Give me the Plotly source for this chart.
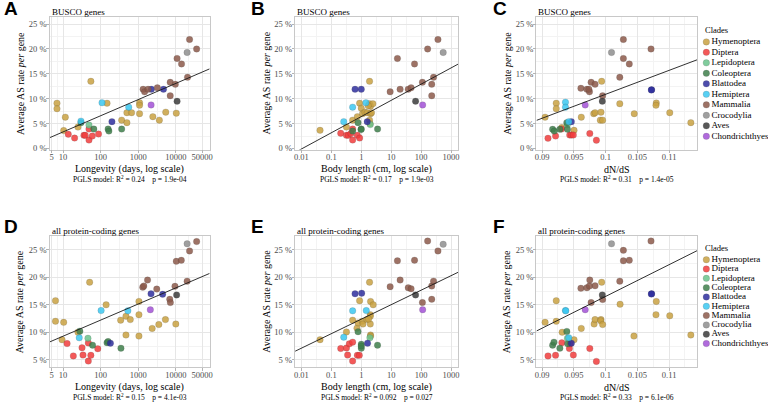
import math
import plotly.graph_objects as go

# ---------------- data ----------------
CLADES = ["Hymenoptera", "Diptera", "Lepidoptera", "Coleoptera", "Blattodea",
          "Hemiptera", "Mammalia", "Crocodylia", "Aves", "Chondrichthyes"]
COLORS = ["#C9A242", "#F23D3D", "#6BC48C", "#3F7F4C", "#2E2E9E",
          "#3CC8F2", "#8C5A4B", "#8F8F8F", "#3B3B3B", "#A352D6"]
# number of species per clade (same order in every panel's lists)
CLADE_COUNTS = [18, 8, 1, 5, 3, 3, 12, 1, 1, 1]

# Panel A: longevity (days) vs AS rate (%), BUSCO genes
A_x = [6.9, 6.9, 11.5, 10.4, 25, 55, 148, 363, 500, 500, 665, 1085, 1085, 1085, 2450, 3650, 5400, 10300,
       13.8, 20.3, 36, 39, 49, 49, 60, 88,
       49,
       30, 66, 158, 166, 363,
       200, 2240, 4700,
       30, 109, 560,
       1350, 1480, 1830, 3230, 7100, 7100, 9700, 10800, 14200, 20500, 23200, 35800,
       20000, 10800, 2200]
A_y = [9.1, 8.0, 6.3, 3.6, 4.3, 13.5, 9.1, 5.7, 5.2, 7.2, 7.2, 9.2, 8.7, 7.0, 6.4, 5.7, 7.3, 7.1,
       2.85, 2.1, 2.65, 2.65, 3.9, 1.7, 2.5, 2.9,
       4.7,
       5.2, 3.9, 3.9, 3.5, 3.9,
       5.4, 11.9, 11.9,
       5.5, 9.2, 8.3,
       11.9, 11.4, 11.9, 12.2, 13.3, 10.6, 12.9, 18.1, 17.0, 14.3, 21.9, 20.0,
       19.3, 9.5, 8.75]

# Panel B: body length (cm) vs AS rate (%), BUSCO genes
B_x = [0.042, 0.32, 0.515, 0.74, 0.88, 1.0, 1.1, 1.32, 1.58, 1.89, 1.89, 2.04, 2.44, 2.04, 1.89, 1.71, 2.2, 1.95,
       0.206, 0.32, 0.37, 0.515, 0.515, 0.74, 0.88, 0.45,
       2.0,
       0.78, 0.515, 1.0, 0.98, 3.5,
       0.62, 1.0, 1.58,
       0.26, 0.515, 1.43,
       9.2, 19.8, 16.1, 37, 46, 60, 110, 225, 225, 259, 164, 363,
       543, 65, 112]
B_y = [3.65, 4.3, 5.7, 6.4, 9.1, 8.1, 7.0, 7.3, 7.2, 13.5, 9.0, 8.5, 9.0, 7.0, 5.7, 8.6, 7.2, 5.0,
       3.05, 2.65, 2.65, 3.9, 1.7, 2.65, 2.1, 3.0,
       4.8,
       5.2, 3.5, 3.9, 3.8, 3.9,
       11.9, 11.9, 5.4,
       5.4, 8.3, 9.2,
       11.4, 11.9, 18.1, 11.9, 12.2, 17.0, 13.3, 12.9, 10.6, 14.3, 20.0, 21.9,
       19.3, 9.5, 8.75]

# Panel C: dN/dS vs AS rate (%), BUSCO genes
C_x = [0.09047, 0.09223, 0.09223, 0.0931, 0.09503, 0.09617, 0.09813, 0.09834, 0.09938, 0.09927, 0.09917,
       0.09953, 0.10223, 0.10451, 0.10798, 0.10793, 0.1101, 0.11342,
       0.09093, 0.09212, 0.09306, 0.09435, 0.09461, 0.09492, 0.09751, 0.09855,
       0.09399,
       0.09166, 0.09192, 0.0928, 0.09389, 0.09399,
       0.09461, 0.10725, 0.1072,
       0.09368, 0.09368, 0.0942,
       0.09611, 0.09705, 0.09746, 0.09772, 0.09834, 0.09953, 0.10223, 0.1028, 0.1028, 0.10373, 0.10715, 0.09736,
       0.10093, 0.09948, 0.09679]
C_y = [6.3, 9.1, 8.0, 4.2, 3.65, 6.3, 7.0, 7.2, 13.5, 7.3, 5.7, 5.7, 9.0, 7.0, 9.15, 8.7, 7.2, 5.2,
       2.05, 2.5, 3.9, 2.7, 2.7, 2.7, 3.0, 1.65,
       4.8,
       3.85, 3.5, 3.85, 5.2, 3.85,
       5.4, 11.8, 11.75,
       9.3, 8.3, 5.4,
       12.1, 11.9, 11.4, 13.3, 12.9, 10.6, 14.3, 21.9, 18.1, 17.0, 20.0, 11.9,
       19.3, 9.5, 8.75]

# Panel D: longevity (days) vs AS rate (%), all protein-coding genes
D_x = [6.3, 6.3, 10.4, 9.4, 25, 51, 140, 341, 472, 472, 615, 1045, 1045, 1045, 2350, 3530, 5300, 10000,
       12.8, 18.8, 32, 34, 47, 47, 55, 84,
       46,
       28, 61, 148, 158, 347,
       182, 2190, 4460,
       27, 103, 530,
       1320, 1410, 1770, 3110, 6900, 7160, 9500, 10300, 14000, 20000, 23200, 35800,
       20000, 10500, 2100]
D_y = [15.75, 12.0, 11.8, 8.65, 10.0, 19.1, 15.0, 12.2, 9.5, 12.9, 12.3, 15.6, 13.2, 9.3, 10.7, 11.4, 12.3, 11.5,
       7.95, 5.7, 7.2, 5.85, 8.05, 4.75, 5.8, 7.0,
       8.9,
       10.2, 7.65, 8.1, 8.3, 7.1,
       8.0, 17.0, 16.9,
       9.0, 13.95, 13.9,
       18.2, 18.4, 19.5, 17.85, 16.0, 15.4, 18.35, 22.9, 23.1, 19.3, 24.8, 26.5,
       26.1, 16.8, 14.1]

# Panel E: body length (cm) vs AS rate (%), all protein-coding genes
E_x = [0.042, 0.32, 0.515, 0.72, 0.88, 0.78, 1.08, 1.14, 1.54, 1.89, 2.04, 2.5, 2.0, 2.0, 2.0, 2.04, 2.04, 1.75,
       0.206, 0.32, 0.4, 0.515, 0.35, 0.74, 0.86, 0.515,
       1.94,
       0.78, 1.0, 1.0, 3.49, 1.0,
       0.62, 1.03, 1.62,
       0.515, 0.26, 1.47,
       9.2, 16.1, 19.8, 37, 46, 60, 110, 164, 225, 225, 259, 363,
       543, 65, 112]
E_y = [8.65, 10.05, 12.2, 10.75, 15.75, 11.7, 12.0, 11.5, 12.3, 19.1, 15.6, 15.0, 13.2, 12.9, 11.5, 9.5, 9.3, 12.4,
       7.05, 7.15, 7.9, 8.2, 5.85, 5.8, 5.8, 4.75,
       9.0,
       10.1, 7.8, 7.1, 7.65, 7.5,
       17.0, 17.1, 8.0,
       13.9, 9.1, 13.95,
       18.3, 23.0, 19.5, 18.1, 17.9, 23.1, 15.4, 26.6, 18.4, 16.0, 19.3, 24.8,
       26.0, 16.8, 14.1]

# Panel F: dN/dS vs AS rate (%), all protein-coding genes
F_x = [0.09047, 0.09223, 0.09223, 0.09316, 0.09503, 0.09617, 0.09819, 0.09834, 0.09938, 0.09927, 0.09922,
       0.09953, 0.10228, 0.10446, 0.10798, 0.10793, 0.1101, 0.11342,
       0.09093, 0.09212, 0.09311, 0.0943, 0.0944, 0.09492, 0.09751, 0.09855,
       0.09399,
       0.09166, 0.09187, 0.0928, 0.09389, 0.09404,
       0.09461, 0.10725, 0.1072,
       0.09368, 0.0942, 0.09373,
       0.09611, 0.09705, 0.09746, 0.09751, 0.09834, 0.09772, 0.09953, 0.10223, 0.1028, 0.1028, 0.10373, 0.10715,
       0.10093, 0.09948, 0.09679]
F_y = [11.8, 15.75, 12.0, 10.0, 8.65, 10.7, 11.5, 12.3, 19.1, 12.3, 12.1, 11.4, 15.1, 9.3, 15.6, 13.2, 13.0, 9.5,
       5.7, 5.8, 8.1, 7.05, 7.9, 5.85, 7.05, 4.7,
       8.9,
       7.65, 8.2, 7.1, 10.15, 7.9,
       8.0, 17.0, 16.95,
       13.95, 9.0, 13.9,
       18.0, 18.1, 18.4, 19.5, 18.45, 15.4, 15.95, 19.3, 24.9, 23.0, 23.1, 26.6,
       26.1, 16.8, 14.1]

# PGLS fits: (intercept, slope) ; log panels use log10(x)
FITS = [(0.08, 3.25), (6.42, 3.26), (-37.26, 481.5),
        (6.35, 2.93), (12.38, 2.64), (-41.28, 578.0)]
R2_TEXT = ["0.24", "0.17", "0.31", "0.15", "0.092", "0.33"]
P_TEXT = ["1.9e-04", "1.9e-03", "1.4e-05", "4.1e-03", "0.027", "6.1e-06"]

LONG_TICKS = [5, 10, 100, 1000, 10000, 50000]
BODY_TICKS = [0.01, 0.1, 1, 10, 100, 1000]
DNDS_TICKS = [0.09, 0.095, 0.1, 0.105, 0.11]
DNDS_TICKTEXT = ["0.09", "0.095", "0.1", "0.105", "0.11"]
Y_TICKS_TOP = [0, 5, 10, 15, 20, 25]
Y_TICKS_BOT = [5, 10, 15, 20, 25]

LETTERS = ["A", "B", "C", "D", "E", "F"]
SUBTITLES = ["BUSCO genes"] * 3 + ["all protein-coding genes"] * 3
XTITLES = ["Longevity (days, log scale)", "Body length (cm, log scale)", "dN/dS"] * 2

# ---------------- layout helpers ----------------
W, H = 768, 404
SERIF = "Liberation Serif, Times New Roman, serif"
SANS = "Liberation Sans, Arial, sans-serif"
COLS_PX = [(48, 209), (295, 459), (538, 700)]
ROWS_PX = [(17, 151), (238, 371)]
XRANGES = [[0.645, 4.90], [-2.21, 3.23], [0.08912, 0.11446]]
YRANGES = [[-0.2, 26.46], [3.62, 27.58]]

def px(x):
    return x / W

def py(y):
    return 1 - y / H

panels = [(A_x, A_y), (B_x, B_y), (C_x, C_y), (D_x, D_y), (E_x, E_y), (F_x, F_y)]

fig = go.Figure()
annotations = []

def ann(text, x, y, size, xanchor="center", yanchor="middle", angle=0,
        family=SERIF, color="black"):
    annotations.append(dict(text=text, x=px(x), y=py(y), xref="paper", yref="paper",
                            xanchor=xanchor, yanchor=yanchor, showarrow=False,
                            textangle=angle, font=dict(family=family, size=size, color=color)))

GRID = "#E6E6E6"
MINOR = "#F3F3F3"
TICKFONT = dict(family=SERIF, size=8.5, color="#4D4D4D")

for i, (xs, ys) in enumerate(panels):
    col, row = i % 3, i // 3
    n = i + 1
    xa = "x" if n == 1 else f"x{n}"
    ya = "y" if n == 1 else f"y{n}"
    # points by clade
    start = 0
    for c, cnt in enumerate(CLADE_COUNTS):
        fig.add_trace(go.Scatter(
            x=xs[start:start + cnt], y=ys[start:start + cnt], mode="markers",
            xaxis=xa, yaxis=ya, showlegend=False, hoverinfo="skip",
            marker=dict(size=6.5, color=COLORS[c], opacity=0.85,
                        line=dict(width=0.5, color="rgba(50,50,50,0.35)"))))
        start += cnt
    # regression line
    a, b = FITS[i]
    r0, r1 = XRANGES[col]
    if col < 2:
        lx = [10 ** r0, 10 ** r1]
        ly = [a + b * math.log10(v) for v in lx]
    else:
        lx = [r0, r1]
        ly = [a + b * v for v in lx]
    fig.add_trace(go.Scatter(x=lx, y=ly, mode="lines", xaxis=xa, yaxis=ya,
                             showlegend=False, hoverinfo="skip",
                             line=dict(color="#1A1A1A", width=0.9)))

    # axes
    cx0, cx1 = COLS_PX[col]
    ry0, ry1 = ROWS_PX[row]
    xax = dict(domain=[px(cx0), px(cx1)], anchor=ya, showline=True, mirror=True,
               linecolor="#C8C8C8", linewidth=0.8, showgrid=True, gridcolor=GRID,
               gridwidth=0.7, zeroline=False, ticks="outside", ticklen=2.5,
               tickcolor="#B3B3B3", tickwidth=0.6, tickfont=TICKFONT,
               ticklabelstandoff=-3)
    if col == 0:
        tv = LONG_TICKS
        mv = [math.sqrt(tv[k] * tv[k + 1]) for k in range(len(tv) - 1)]
        xax.update(type="log", range=XRANGES[col], tickmode="array", tickvals=tv,
                   ticktext=[str(v) for v in tv],
                   minor=dict(tickmode="array", tickvals=mv, showgrid=True,
                              gridcolor=MINOR, gridwidth=0.5, ticks=""))
    elif col == 1:
        tv = BODY_TICKS
        mv = [math.sqrt(tv[k] * tv[k + 1]) for k in range(len(tv) - 1)]
        xax.update(type="log", range=XRANGES[col], tickmode="array", tickvals=tv,
                   ticktext=["0.01", "0.1", "1", "10", "100", "1000"],
                   minor=dict(tickmode="array", tickvals=mv, showgrid=True,
                              gridcolor=MINOR, gridwidth=0.5, ticks=""))
    else:
        tv = DNDS_TICKS
        mv = [(tv[k] + tv[k + 1]) / 2 for k in range(len(tv) - 1)] + [tv[-1] + 0.0025]
        xax.update(type="linear", range=XRANGES[col], tickmode="array", tickvals=tv,
                   ticktext=DNDS_TICKTEXT,
                   minor=dict(tickmode="array", tickvals=mv, showgrid=True,
                              gridcolor=MINOR, gridwidth=0.5, ticks=""))
    yt = Y_TICKS_TOP if row == 0 else Y_TICKS_BOT
    ymv = [v + 2.5 for v in yt[:-1]]
    yax = dict(domain=[py(ry1), py(ry0)], anchor=xa, range=YRANGES[row], showline=True,
               mirror=True, linecolor="#C8C8C8", linewidth=0.8, showgrid=True,
               gridcolor=GRID, gridwidth=0.7, zeroline=False, ticks="outside",
               ticklen=2.5, tickcolor="#B3B3B3", tickwidth=0.6, tickfont=TICKFONT,
               ticklabelstandoff=-2,
               tickmode="array", tickvals=yt, ticktext=[f"{v} %" for v in yt],
               minor=dict(tickmode="array", tickvals=ymv, showgrid=True,
                          gridcolor=MINOR, gridwidth=0.5, ticks=""))
    fig.update_layout({("xaxis" if n == 1 else f"xaxis{n}"): xax,
                       ("yaxis" if n == 1 else f"yaxis{n}"): yax})

    # texts
    letter_x = [0, 249, 492][col]
    letter_y = [-4, 216][row]
    ann(f"<b>{LETTERS[i]}</b>", letter_x, letter_y, 19, xanchor="left", yanchor="top",
        family=SANS)
    ann(SUBTITLES[i], cx0, ry0 - 4.5, 9, xanchor="left", yanchor="middle")
    ytitle_x = [18, 266, 508][col]
    ann("Average AS rate <i>per</i> gene", ytitle_x, (ry0 + ry1) / 2, 10, angle=-90)
    ann(XTITLES[i], (cx0 + cx1) / 2, ry1 + 20, 10)
    ann(f"PGLS model: R<sup>2</sup> = {R2_TEXT[i]}\u00a0\u00a0\u00a0\u00a0p = {P_TEXT[i]}",
        (cx0 + cx1) / 2, ry1 + 30, 7.5)

# ---------------- manual legends (ggplot-style compact) ----------------
LEG = [dict(title_y=30.5, first=42.3, last=137.7), dict(title_y=250.5, first=262.3, last=347.0)]
for k, lg in enumerate(LEG):
    n = 7 + k
    step = (lg["last"] - lg["first"]) / (len(CLADES) - 1)
    top = lg["first"] - step / 2
    bot = lg["last"] + step / 2
    fig.add_trace(go.Scatter(
        x=[0] * len(CLADES), y=list(range(len(CLADES))), mode="markers+text",
        text=CLADES, textposition="middle right",
        textfont=dict(family=SERIF, size=9, color="black"),
        xaxis=f"x{n}", yaxis=f"y{n}", showlegend=False, hoverinfo="skip",
        marker=dict(size=6.5, color=COLORS, opacity=0.85,
                    line=dict(width=0.5, color="rgba(50,50,50,0.35)")),
        cliponaxis=False))
    fig.update_layout({
        f"xaxis{n}": dict(domain=[px(706), px(768)], range=[-0.05, 1], visible=False,
                          anchor=f"y{n}", fixedrange=True),
        f"yaxis{n}": dict(domain=[py(bot), py(top)], range=[len(CLADES) - 0.5, -0.5],
                          visible=False, anchor=f"x{n}", fixedrange=True),
    })
    ann("Clades", 705.5, lg["title_y"], 8.5, xanchor="left", color="#000000")

fig.update_layout(width=W, height=H, margin=dict(l=0, r=0, t=0, b=0),
                  paper_bgcolor="white", plot_bgcolor="white", showlegend=False,
                  annotations=annotations)

fig.write_html("out.html", config={"displayModeBar": False},
               post_script="document.body.style.margin='0';document.body.style.overflow='hidden';")
